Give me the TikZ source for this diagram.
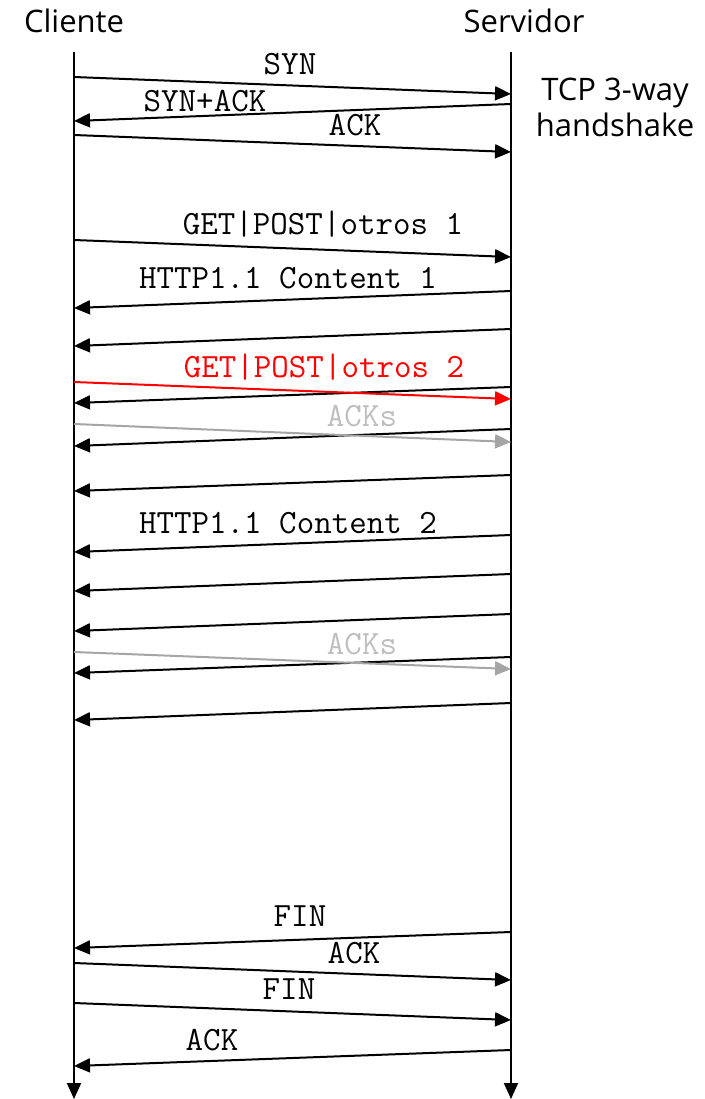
\documentclass[tikz,border=0pt]{standalone}
\usepackage{fontspec}
\setmainfont{Open Sans}
\usetikzlibrary{arrows.meta,positioning}
\definecolor{ackgray}{RGB}{165,165,165}
\definecolor{acktext}{RGB}{190,190,190}

\begin{document}
\begin{tikzpicture}[x=1pt,y=-1pt,line width=2pt,
  msg/.style={-{Triangle[length=16pt,width=14pt]}},
  redmsg/.style={msg,draw=red},
  ackmsg/.style={msg,draw=ackgray},
  lbl/.style={font=\ttfamily\fontsize{34}{39}\selectfont,anchor=base,inner sep=0pt},
  hdr/.style={font=\fontsize{31}{36}\selectfont,anchor=base,inner sep=0pt}]

  \useasboundingbox (0,0) rectangle (704,1099);

  % hosts
  \node[hdr] (cliente) at (74,33) {Cliente};
  \node[hdr] (servidor) at (524,33) {Servidor};
  \node[hdr] (tcp1) at (615,101) {TCP 3-way};
  \node[hdr] (tcp2) at (615,137) {handshake};

  % time lines
  \coordinate (cli-top) at (74,52);
  \coordinate (cli-end) at (74,1099);
  \coordinate (srv-top) at (511,52);
  \coordinate (srv-end) at (511,1099);
  \draw[msg] (cli-top) -- (cli-end);
  \draw[msg] (srv-top) -- (srv-end);

  % message end points: client side c, server side s
  \foreach \n/\a/\b in {1/77/94, 2/121/104, 3/135/152, 4/240/257, 5/308/291,
      6/346/329, 7/382/399, 8/403/387, 9/424/442, 10/446/429, 11/491/475,
      12/552/535, 13/591/574, 14/631/614, 15/652/669, 16/673/657, 17/720/703,
      18/948/932, 19/963/980, 20/1003/1020, 21/1066/1050}
    {\coordinate (c\n) at (74,\a);
     \coordinate (s\n) at (511,\b);}

  % handshake
  \draw[msg] (c1) -- (s1);
  \draw[msg] (s2) -- (c2);
  \draw[msg] (c3) -- (s3);
  \node[lbl] (syn) at (290,75) {SYN};
  \node[lbl] (synack) at (205,112) {SYN+ACK};
  \node[lbl] (ack) at (355,136) {ACK};

  % first request and its data
  \draw[msg] (c4) -- (s4);
  \draw[msg] (s5) -- (c5);
  \draw[msg] (s6) -- (c6);
  \node[lbl] (get1) at (323,234) {GET|POST|otros 1};
  \node[lbl] (http1) at (288,288) {HTTP1.1 Content 1};

  % second request, pipelined
  \foreach \n in {8,10,11,12,13,14,16,17}
    \draw[msg] (s\n) -- (c\n);
  \draw[redmsg] (c7) -- (s7);
  \draw[ackmsg] (c9) -- (s9);
  \draw[ackmsg] (c15) -- (s15);
  \node[lbl,text=red] (get2) at (324,377) {GET|POST|otros 2};
  \node[lbl,text=acktext] (acks1) at (362,426) {ACKs};
  \node[lbl] (http2) at (288,533) {HTTP1.1 Content 2};
  \node[lbl,text=acktext] (acks2) at (362,654) {ACKs};

  % closing
  \draw[msg] (s18) -- (c18);
  \draw[msg] (c19) -- (s19);
  \draw[msg] (c20) -- (s20);
  \draw[msg] (s21) -- (c21);
  \node[lbl] (fin1) at (300,926) {FIN};
  \node[lbl] (ack2) at (354,963) {ACK};
  \node[lbl] (fin2) at (289,999) {FIN};
  \node[lbl] (ack3) at (212,1050) {ACK};

\end{tikzpicture}
\end{document}
